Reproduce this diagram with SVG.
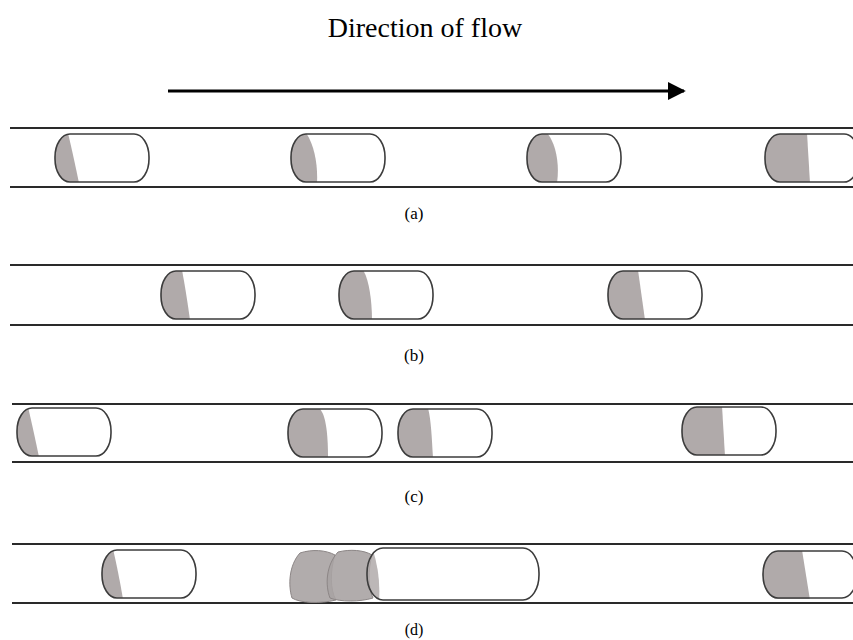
<svg xmlns="http://www.w3.org/2000/svg" width="853" height="640" viewBox="0 0 853 640">
  <style>
    .wall { stroke: #2a2a2a; stroke-width: 1.8; fill: none; }
    .shell { fill: none; stroke: #3c3c3c; stroke-width: 1.6; }
    .fluid { fill: #b0aaaa; }
    .blob { fill: #a9a3a3; fill-opacity: 0.9; stroke: #8c8686; stroke-width: 1; }
    .label { font-family: "Liberation Serif", "Times New Roman", serif; fill: #000; text-anchor: middle; }
  </style>
  <defs>
    <clipPath id="cap"><rect x="0" y="0" width="94" height="48" rx="15" ry="23"/></clipPath>
    <clipPath id="capLong"><rect x="0" y="0" width="172" height="52" rx="16" ry="25"/></clipPath>
    <marker id="head" viewBox="0 0 10 10" refX="9" refY="5" markerWidth="6" markerHeight="6" orient="auto" markerUnits="strokeWidth">
      <path d="M0,0 L10,5 L0,10 Z" fill="#000"/>
    </marker>
  </defs>

  <!-- heading and flow arrow -->
  <text class="label" x="425" y="37" font-size="28">Direction of flow</text>
  <g id="connectors">
    <line x1="168" y1="91" x2="684" y2="91" stroke="#000" stroke-width="3" marker-end="url(#head)"/>
  </g>

  <!-- channel walls -->
  <g id="walls">
    <line class="wall" x1="10" y1="128" x2="853" y2="128"/>
    <line class="wall" x1="10" y1="187" x2="853" y2="187"/>
    <line class="wall" x1="10" y1="265" x2="853" y2="265"/>
    <line class="wall" x1="10" y1="325" x2="853" y2="325"/>
    <line class="wall" x1="12" y1="404" x2="853" y2="404"/>
    <line class="wall" x1="12" y1="462" x2="853" y2="462"/>
    <line class="wall" x1="12" y1="544" x2="853" y2="544"/>
    <line class="wall" x1="12" y1="603" x2="853" y2="603"/>
  </g>

  <!-- row (a) -->
  <g id="a1" transform="translate(55,134)">
    <path class="fluid" clip-path="url(#cap)" d="M-1,-1 H13 Q18,20 24,49 H-1 Z"/>
    <rect class="shell" width="94" height="48" rx="15" ry="23"/>
  </g>
  <g id="a2" transform="translate(291,134)">
    <path class="fluid" clip-path="url(#cap)" d="M-1,-1 H15 C23,10 27,30 26,49 H-1 Z"/>
    <rect class="shell" width="94" height="48" rx="15" ry="23"/>
  </g>
  <g id="a3" transform="translate(527,134)">
    <path class="fluid" clip-path="url(#cap)" d="M-1,-1 H20 C28,8 33,28 30,49 H-1 Z"/>
    <rect class="shell" width="94" height="48" rx="15" ry="23"/>
  </g>
  <g id="a4" transform="translate(765,134)">
    <path class="fluid" clip-path="url(#cap)" d="M-1,-1 H42 L45,49 H-1 Z"/>
    <rect class="shell" width="94" height="48" rx="15" ry="23"/>
  </g>
  <text class="label" x="414" y="219" font-size="17">(a)</text>

  <!-- row (b) -->
  <g id="b1" transform="translate(161,271)">
    <path class="fluid" clip-path="url(#cap)" d="M-1,-1 H21 Q25,20 29,49 H-1 Z"/>
    <rect class="shell" width="94" height="48" rx="15" ry="23"/>
  </g>
  <g id="b2" transform="translate(339,271)">
    <path class="fluid" clip-path="url(#cap)" d="M-1,-1 H24 C30,8 33,30 33,49 H-1 Z"/>
    <rect class="shell" width="94" height="48" rx="15" ry="23"/>
  </g>
  <g id="b3" transform="translate(608,271)">
    <path class="fluid" clip-path="url(#cap)" d="M-1,-1 H30 L37,49 H-1 Z"/>
    <rect class="shell" width="94" height="48" rx="15" ry="23"/>
  </g>
  <text class="label" x="414" y="361" font-size="17">(b)</text>

  <!-- row (c) -->
  <g id="c1" transform="translate(17,408)">
    <path class="fluid" clip-path="url(#cap)" d="M-1,-1 H11 Q16,20 22,49 H-1 Z"/>
    <rect class="shell" width="94" height="48" rx="15" ry="23"/>
  </g>
  <g id="c2" transform="translate(288,409)">
    <path class="fluid" clip-path="url(#cap)" d="M-1,-1 H31 C38,5 40,25 40,49 H-1 Z"/>
    <rect class="shell" width="94" height="48" rx="15" ry="23"/>
  </g>
  <g id="c3" transform="translate(398,409)">
    <path class="fluid" clip-path="url(#cap)" d="M-1,-1 H30 C33,10 34,30 35,49 H-1 Z"/>
    <rect class="shell" width="94" height="48" rx="15" ry="23"/>
  </g>
  <g id="c4" transform="translate(682,407)">
    <path class="fluid" clip-path="url(#cap)" d="M-1,-1 H40 L43,49 H-1 Z"/>
    <rect class="shell" width="94" height="48" rx="15" ry="23"/>
  </g>
  <text class="label" x="414" y="502" font-size="17">(c)</text>

  <!-- row (d) -->
  <g id="d1" transform="translate(102,550)">
    <path class="fluid" clip-path="url(#cap)" d="M-1,-1 H11 Q16,20 21,49 H-1 Z"/>
    <rect class="shell" width="94" height="48" rx="15" ry="23"/>
  </g>
  <g id="d2">
    <path class="blob" d="M300,553 C312,549 326,550 335,555 C330,570 330,590 336,600 C320,604 300,603 292,598 C288,585 289,565 300,553 Z"/>
    <path class="blob" d="M338,552 C350,549 364,550 372,555 C368,570 368,588 373,598 C360,602 340,602 330,598 C325,585 326,565 338,552 Z"/>
  </g>
  <g id="d3" transform="translate(367,548)">
    <path class="fluid" clip-path="url(#capLong)" d="M-1,-1 H5 Q14,26 12,53 H-1 Z" fill-opacity="0.85"/>
    <rect class="shell" width="172" height="52" rx="16" ry="25"/>
  </g>
  <g id="d4" transform="translate(763,551)">
    <path class="fluid" clip-path="url(#cap)" d="M-1,-1 H39 L47,49 H-1 Z"/>
    <rect class="shell" width="94" height="47" rx="15" ry="23"/>
  </g>
  <text class="label" x="414" y="635" font-size="16">(d)</text>
</svg>
